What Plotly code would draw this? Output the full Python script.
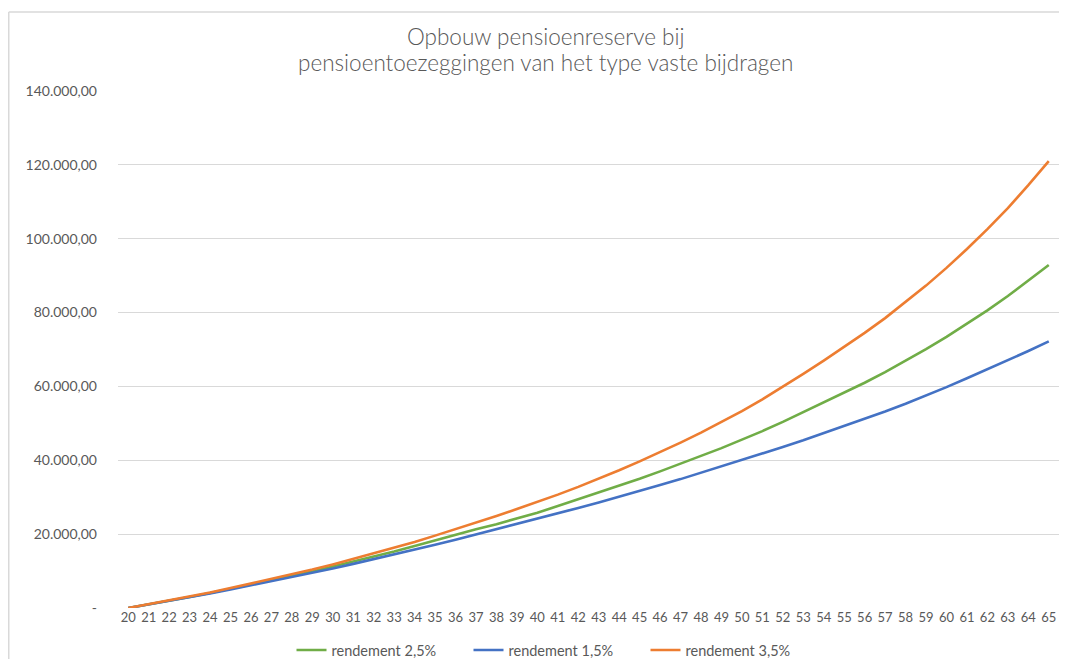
import plotly.graph_objects as go

ages = list(range(20, 66))

rendement_25 = [0, 950, 1950, 3000, 4050, 5150, 6300, 7450, 8650, 9900,
                11200, 12500, 13900, 15300, 16800, 18350, 19900, 21300, 22700, 24200,
                25800, 27600, 29400, 31200, 33100, 35000, 37000, 39000, 41200, 43300,
                45500, 47900, 50400, 53000, 55600, 58300, 61000, 63900, 66900, 70100,
                73400, 76900, 80600, 84500, 88600, 92900]

rendement_15 = [0, 950, 1900, 2900, 3950, 5000, 6100, 7200, 8350, 9500,
                10700, 11950, 13200, 14500, 15800, 17100, 18500, 19900, 21300, 22700,
                24100, 25600, 27100, 28600, 30100, 31700, 33300, 34900, 36600, 38300,
                40000, 41800, 43600, 45400, 47300, 49200, 51200, 53200, 55300, 57500,
                59800, 62200, 64600, 67100, 69600, 72200]

rendement_35 = [0, 1000, 2000, 3100, 4200, 5400, 6600, 7800, 9100, 10400,
                11800, 13300, 14800, 16300, 17900, 19600, 21300, 23100, 24900, 26800,
                28700, 30700, 32800, 35000, 37300, 39700, 42200, 44800, 47500, 50300,
                53300, 56500, 59900, 63400, 67000, 70700, 74500, 78500, 82800, 87300,
                92100, 97200, 102600, 108300, 114500, 121000]

series_names = ["rendement 2,5%", "rendement 1,5%", "rendement 3,5%"]
series_colors = ["#70AD47", "#4472C4", "#ED7D31"]

y_tickvals = [0, 20000, 40000, 60000, 80000, 100000, 120000, 140000]
y_ticktext = ["-", "20.000,00", "40.000,00", "60.000,00", "80.000,00",
              "100.000,00", "120.000,00", "140.000,00"]

title_lines = ["Opbouw pensioenreserve bij",
               "pensioentoezeggingen van het type vaste bijdragen"]

fig = go.Figure()
for name, vals, col in zip(series_names, [rendement_25, rendement_15, rendement_35], series_colors):
    fig.add_trace(go.Scatter(x=ages, y=vals, mode="lines", name=name,
                             line=dict(color=col, width=2.6)))

# page body has an 8px margin: figure coords = screen coords - 8
OFF = 8
W, H = 1067 - 2 * OFF, 667 - 2 * OFF
L, T = 118 - OFF, 91 - OFF
R = W - (1059 - OFF)
B = H - (608 - OFF)
pw = W - L - R
ph = H - T - B

def px_x(p):
    return (p - OFF - L) / pw

def px_y(p):
    return (H - B - (p - OFF)) / ph

fig.update_layout(
    width=W, height=H,
    margin=dict(l=L, r=R, t=T, b=B, autoexpand=False),
    paper_bgcolor="white", plot_bgcolor="white",
    font=dict(family="Lato, 'Open Sans', sans-serif", size=13, color="#595959"),
    showlegend=True,
    legend=dict(orientation="h", x=px_x(557), xanchor="center",
                y=px_y(650), yanchor="middle",
                font=dict(size=14.5, color="#595959"),
                entrywidth=132, traceorder="normal"),
    xaxis=dict(type="linear", range=[19.5, 65.5], tickmode="array",
               tickvals=ages, ticktext=[str(a) for a in ages],
               showgrid=False, zeroline=False, showline=False, ticks="",
               tickfont=dict(size=13, color="#595959")),
    yaxis=dict(range=[0, 140000], tickmode="array", tickvals=y_tickvals,
               ticktext=y_ticktext, showgrid=True, gridcolor="#D9D9D9",
               gridwidth=1, zeroline=False, showline=False, ticks="",
               ticklabelstandoff=20,
               tickfont=dict(size=14, color="#595959")),
)

for line_text, ypix in zip(title_lines, [37, 63]):
    fig.add_annotation(text=line_text, xref="paper", yref="paper",
                       x=px_x(545), y=px_y(ypix), xanchor="center", yanchor="middle",
                       showarrow=False,
                       font=dict(family="Lato, sans-serif", size=22.5, weight=300,
                                 color="#595959"))

# chart frame: left and top edges (right/bottom fall outside the visible area)
frame = dict(color="#D9D9D9", width=1.5)
fig.add_shape(type="line", xref="paper", yref="paper",
              x0=px_x(8.75), x1=px_x(8.75), y0=px_y(700), y1=px_y(12),
              line=frame, layer="below")
fig.add_shape(type="line", xref="paper", yref="paper",
              x0=px_x(8.75), x1=px_x(1100), y0=px_y(12), y1=px_y(12),
              line=frame, layer="below")

fig.write_html("out.html")
